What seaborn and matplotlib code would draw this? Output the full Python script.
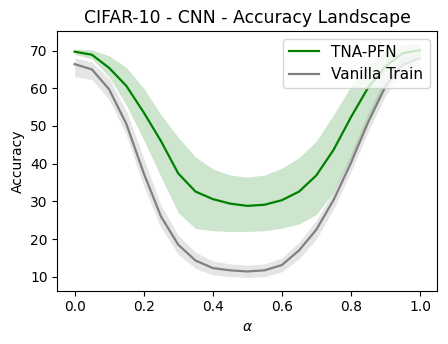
import numpy as np
import pandas as pd
import matplotlib
matplotlib.use("Agg")
import matplotlib.pyplot as plt
import seaborn as sns

alpha = [0.0, 0.05, 0.1, 0.15, 0.2, 0.25, 0.3, 0.35, 0.4, 0.45, 0.5,
         0.55, 0.6, 0.65, 0.7, 0.75, 0.8, 0.85, 0.9, 0.95, 1.0]

tna_mean = [69.7, 68.9, 65.4, 60.6, 53.6, 46.0, 37.4, 32.6, 30.6, 29.4, 28.8,
            29.1, 30.3, 32.6, 36.9, 43.7, 52.3, 60.2, 65.8, 69.3, 70.1]
tna_upper = [70.4, 70.2, 68.6, 65.5, 60.0, 53.0, 47.0, 41.8, 38.6, 37.0, 36.4,
             37.0, 38.8, 41.6, 46.0, 53.0, 60.5, 66.0, 70.0, 71.5, 71.8]
tna_lower = [69.0, 67.8, 63.0, 55.5, 46.3, 36.5, 27.0, 22.8, 22.2, 22.0, 22.0,
             22.2, 22.9, 24.0, 26.5, 32.5, 41.5, 51.0, 60.0, 66.5, 68.4]

van_mean = [66.4, 65.0, 59.7, 50.5, 37.5, 26.0, 18.5, 14.3, 12.3, 11.7, 11.4,
            11.7, 13.1, 17.0, 22.5, 30.4, 40.2, 51.0, 60.5, 66.2, 68.0]
van_upper = [68.0, 67.0, 62.5, 54.0, 41.5, 29.0, 21.0, 16.5, 14.2, 13.4, 13.1,
             13.4, 15.0, 19.2, 25.0, 32.8, 42.6, 53.5, 63.0, 68.3, 69.7]
van_lower = [63.1, 62.3, 57.0, 47.5, 34.0, 23.0, 16.0, 12.2, 10.5, 10.0, 9.8,
             10.0, 11.3, 14.8, 20.0, 28.0, 37.8, 48.5, 58.0, 64.0, 66.3]

series_names = ["TNA-PFN", "Vanilla Train"]
colors = ["green", "gray"]

fig = plt.figure(figsize=(4.48, 3.44), dpi=100)
ax = fig.add_axes([0.128, 0.155, 0.848, 0.755])

df = pd.DataFrame({
    "alpha": alpha * 2,
    "acc": tna_mean + van_mean,
    "method": [series_names[0]] * len(alpha) + [series_names[1]] * len(alpha),
})

ax.fill_between(alpha, tna_lower, tna_upper, color=colors[0], alpha=0.2, linewidth=0)
ax.fill_between(alpha, van_lower, van_upper, color=colors[1], alpha=0.2, linewidth=0)
sns.lineplot(data=df, x="alpha", y="acc", hue="method", palette=colors,
             linewidth=1.6, ax=ax)

ax.set_title("CIFAR-10 - CNN - Accuracy Landscape", fontsize=12.4)
ax.set_xlabel(r"$\alpha$", fontsize=10)
ax.set_ylabel("Accuracy", fontsize=10)
ax.set_xticks([0.0, 0.2, 0.4, 0.6, 0.8, 1.0])
ax.set_yticks([10, 20, 30, 40, 50, 60, 70])
ax.tick_params(labelsize=10)
ax.set_xlim(-0.05, 1.05)
ax.set_ylim(6.3, 75.2)
leg = ax.legend(loc="upper right", fontsize=11, title=None)

fig.savefig("out.png", dpi=100)
